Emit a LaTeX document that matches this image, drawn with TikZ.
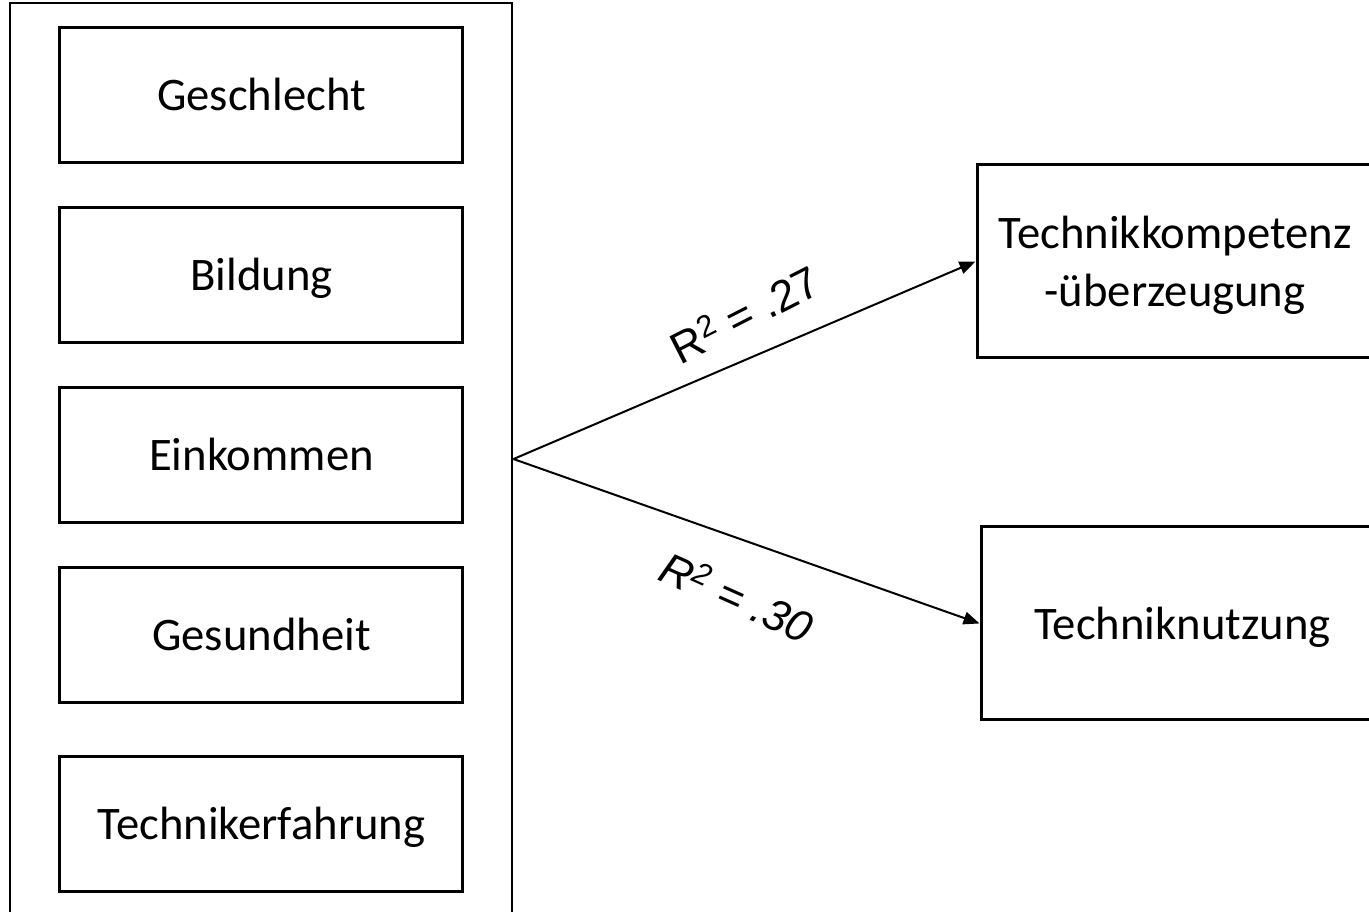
\documentclass[tikz,border=0pt]{standalone}
\usepackage{fontspec}
\setmainfont{Carlito}
\newfontfamily\arialfont{Liberation Sans}
\usetikzlibrary{positioning,arrows.meta,fit}

\begin{document}
\begin{tikzpicture}[
  every node/.style={font=\fontsize{35}{43}\selectfont},
  predictor/.style={
    draw, line width=2.25pt, inner sep=0pt, align=center, text depth=0pt,
    minimum width=302.25pt, minimum height=101.25pt,
  },
  outcome/.style={
    draw, line width=2.25pt, inner sep=0pt, align=center, text depth=0pt,
    minimum height=144.75pt,
  },
  arrow/.style={-{Triangle[length=12pt,width=9.5pt]}, line width=1.5pt},
  rsq/.style={font=\arialfont\fontsize{33}{38}\selectfont},
]
  \clip (0,0) rectangle (1026.75pt,-684pt);

  % Predictors (stacked, on the left)
  \node[predictor] (ges) at (196.1pt,-70.9pt) {Geschlecht};
  \node[predictor, below=31.5pt of ges]  (bil)  {Bildung};
  \node[predictor, below=31.5pt of bil]  (ein)  {Einkommen};
  \node[predictor, below=31.5pt of ein]  (gesu) {Gesundheit};
  \node[predictor, below=38.25pt of gesu] (erf) {Technikerfahrung};
  \node[draw, line width=1.5pt, fit=(ges)(erf), inner xsep=36pt, inner ysep=17.25pt] (pred) {};

  % Outcomes (on the right)
  \node[outcome, minimum width=297pt] (tk) at (881.25pt,-196.1pt) {Technikkompetenz\\-überzeugung};
  \node[outcome, minimum width=302.25pt] (tn) at (886.9pt,-467.6pt) {Techniknutzung};

  % explained variance on the paths
  \draw[arrow] (pred.east) -- node[rsq, pos=0.5, yshift=35pt, rotate=27] {R\textsuperscript{2} = .27} (tk.west);
  \draw[arrow] (pred.east) -- node[rsq, pos=0.48, yshift=-44pt, rotate=-24] {\itshape R\textsuperscript{2} = .30} (tn.west);
\end{tikzpicture}
\end{document}
